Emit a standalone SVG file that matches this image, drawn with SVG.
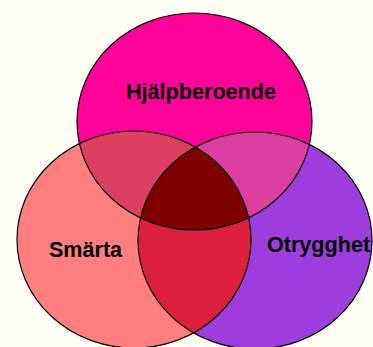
<svg xmlns="http://www.w3.org/2000/svg" width="373" height="347" viewBox="0 0 373 347">
<defs>
<style>
.o{fill:none;stroke:#000;stroke-width:1.2}
.t{font-family:"Liberation Sans",Arial,sans-serif;font-weight:bold;font-size:21.6px;fill:#000;text-anchor:middle}
</style>
<clipPath id="cT"><ellipse cx="194.5" cy="121.5" rx="117.5" ry="108.5"/></clipPath>
<clipPath id="cL"><ellipse cx="134" cy="239.5" rx="117" ry="108.5"/></clipPath>
<clipPath id="cR"><ellipse cx="255" cy="240.5" rx="117" ry="108.5"/></clipPath>
</defs>
<rect width="373" height="347" fill="#FFFFF6"/>
<g id="fills">
<ellipse cx="194.5" cy="121.5" rx="117.5" ry="108.5" fill="#FF0099"/>
<ellipse cx="134" cy="239.5" rx="117" ry="108.5" fill="#FF7F7F"/>
<ellipse cx="255" cy="240.5" rx="117" ry="108.5" fill="#9D3DDD"/>
<g clip-path="url(#cT)">
<ellipse cx="134" cy="239.5" rx="117" ry="108.5" fill="#DC4060"/>
<ellipse cx="255" cy="240.5" rx="117" ry="108.5" fill="#DC3F9F"/>
</g>
<g clip-path="url(#cL)">
<ellipse cx="255" cy="240.5" rx="117" ry="108.5" fill="#DC1F3F"/>
</g>
<g clip-path="url(#cT)"><g clip-path="url(#cL)">
<ellipse cx="255" cy="240.5" rx="117" ry="108.5" fill="#800000"/>
</g></g>
</g>
<g id="node-hjalpberoende">
<ellipse class="o" cx="194.5" cy="121.5" rx="117.5" ry="108.5"/>
<text class="t" x="201" y="98.5">Hjälpberoende</text>
</g>
<g id="node-smarta">
<ellipse class="o" cx="134" cy="239.5" rx="117" ry="108.5"/>
<text class="t" x="85.5" y="256.5">Smärta</text>
</g>
<g id="node-otrygghet">
<ellipse class="o" cx="255" cy="240.5" rx="117" ry="108.5"/>
<text class="t" x="318.5" y="251.5">Otrygghet</text>
</g>
<g id="connectors"/>
</svg>
